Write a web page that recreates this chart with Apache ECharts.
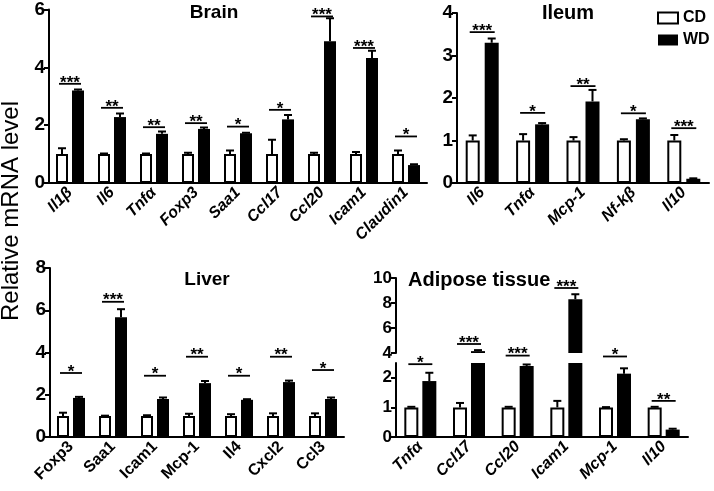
<!DOCTYPE html>
<html>
<head>
<meta charset="utf-8">
<script src="https://cdn.jsdelivr.net/npm/echarts@6/dist/echarts.min.js"></script>
<style>
  html, body { margin: 0; padding: 0; background: #fff; }
  #main { width: 714px; height: 491px; }
</style>
</head>
<body>
<div id="main"></div>
<script>
// brain
const brainCats = ['Il1β', 'Il6', 'Tnfα', 'Foxp3', 'Saa1', 'Ccl17', 'Ccl20', 'Icam1', 'Claudin1'];
const brainCD = [1, 1, 1, 1, 1, 1, 1, 1, 1];
const brainCDErr = [0.2, 0.02, 0.02, 0.05, 0.12, 0.5, 0.05, 0.07, 0.12];
const brainWD = [3.2, 2.28, 1.7, 1.87, 1.72, 2.2, 4.9, 4.32, 0.62];
const brainWDErr = [0.03, 0.12, 0.08, 0.05, 0.02, 0.15, 0.8, 0.25, 0.03];
const brainSig = ['***', '**', '**', '**', '*', '*', '***', '***', '*'];
const brainSigLevel = [3.43, 2.6, 1.93, 2.07, 1.95, 2.53, 5.76, 4.67, 1.61];

// ileum
const ileumCats = ['Il6', 'Tnfα', 'Mcp-1', 'Nf-kβ', 'Il10'];
const ileumCD = [1, 1, 1, 1, 1];
const ileumCDErr = [0.12, 0.15, 0.08, 0.03, 0.13];
const ileumWD = [3.3, 1.38, 1.92, 1.5, 0.1];
const ileumWDErr = [0.1, 0.03, 0.27, 0.02, 0.01];
const ileumSig = ['***', '*', '**', '*', '***'];
const ileumSigLevel = [3.55, 1.65, 2.28, 1.64, 1.29];

// liver
const liverCats = ['Foxp3', 'Saa1', 'Icam1', 'Mcp-1', 'Il4', 'Cxcl2', 'Ccl3'];
const liverCD = [1, 1, 1, 1, 1, 1, 1];
const liverCDErr = [0.15, 0.01, 0.03, 0.1, 0.08, 0.12, 0.12];
const liverWD = [1.85, 5.67, 1.8, 2.55, 1.76, 2.6, 1.8];
const liverWDErr = [0.05, 0.38, 0.07, 0.1, 0.03, 0.07, 0.07];
const liverSig = ['*', '***', '*', '**', '*', '**', '*'];
const liverSigLevel = [3.03, 6.4, 2.9, 3.8, 2.9, 3.8, 3.17];

// adipose tissue (broken axis: levels above 4 belong to the upper part)
const adipCats = ['Tnfα', 'Ccl17', 'Ccl20', 'Icam1', 'Mcp-1', 'Il10'];
const adipCD = [1, 1, 1, 1, 1, 1];
const adipCDErr = [0.02, 0.15, 0.02, 0.22, 0.01, 0.02];
const adipWD = [1.89, 4.15, 2.4, 8.3, 2.14, 0.25];
const adipWDErr = [0.28, 0.08, 0.05, 0.4, 0.18, 0.03];
const adipSig = ['*', '***', '***', '***', '*', '**'];
const adipSigLevel = [2.46, 4.72, 2.75, 9.2, 2.72, 1.22];

const FONT = '"Liberation Sans", Arial, sans-serif';
const myChart = echarts.init(document.getElementById('main'));

const grids = [], xAxes = [], yAxes = [], series = [];

function errorItem(half) {
  return function (params, api) {
    const i = api.value(0);
    const children = [];
    [[api.value(1), api.value(2), -half], [api.value(3), api.value(4), half]].forEach(function (b) {
      const p0 = api.coord([i, b[0]]);
      const p1 = api.coord([i, b[0] + b[1]]);
      const x = p0[0] + b[2];
      children.push({ type: 'line', shape: { x1: x, y1: p0[1], x2: x, y2: p1[1] }, style: { stroke: '#000', lineWidth: 2 } });
      children.push({ type: 'line', shape: { x1: x - 4, y1: p1[1], x2: x + 4, y2: p1[1] }, style: { stroke: '#000', lineWidth: 2 } });
    });
    return { type: 'group', children: children };
  };
}

function sigItem(half, lo, hi) {
  return function (params, api) {
    const i = api.value(0);
    const lvl = api.value(1);
    if (lvl < lo || lvl >= hi) return null;
    const p = api.coord([i, lvl]);
    const x1 = p[0] - half - 3, x2 = p[0] + half + 3;
    return {
      type: 'group',
      children: [
        { type: 'line', shape: { x1: x1, y1: p[1], x2: x2, y2: p[1] }, style: { stroke: '#000', lineWidth: 1.8 } },
        { type: 'text', x: (x1 + x2) / 2, y: p[1] - 1,
          style: { text: api.value(2), textAlign: 'center', textVerticalAlign: 'middle', font: 'bold 17px ' + FONT, fill: '#000' } }
      ]
    };
  };
}

function addPanel(p) {
  const gi = grids.length;
  grids.push({ left: p.box[0], top: p.box[1], width: p.box[2], height: p.box[3] });
  xAxes.push({
    type: 'category', gridIndex: gi, data: p.cats, show: p.showX !== false,
    axisLine: { lineStyle: { color: '#000', width: 2 } },
    axisTick: { alignWithLabel: true, length: 5, lineStyle: { color: '#000', width: 2 } },
    axisLabel: { rotate: 45, interval: 0, margin: 7, color: '#000', fontWeight: 'bold',
      fontStyle: p.italic ? 'italic' : 'normal', fontSize: 16, fontFamily: FONT }
  });
  yAxes.push({
    type: 'value', gridIndex: gi, min: p.min, max: p.max, interval: p.interval,
    axisLine: { show: true, lineStyle: { color: '#000', width: 2 } },
    axisTick: { show: true, length: 5, lineStyle: { color: '#000', width: 2 } },
    axisLabel: { color: '#000', fontWeight: 'bold', fontSize: p.labelSize || 19, fontFamily: FONT, margin: 4,
      showMaxLabel: p.showMaxLabel !== false },
    splitLine: { show: false }
  });
  const half = (p.barWidth + p.gap) / 2;
  const barGap = (p.gap / p.barWidth * 100) + '%';
  series.push({
    name: 'CD', type: 'bar', xAxisIndex: gi, yAxisIndex: gi, data: p.cd, barWidth: p.barWidth, barGap: barGap,
    itemStyle: { color: '#fff', borderColor: '#000', borderWidth: 2 }, clip: true
  });
  series.push({
    name: 'WD', type: 'bar', xAxisIndex: gi, yAxisIndex: gi, data: p.wd, barWidth: p.barWidth, barGap: barGap,
    itemStyle: { color: '#000' }, clip: true
  });
  series.push({
    type: 'custom', xAxisIndex: gi, yAxisIndex: gi, clip: true, silent: true,
    data: p.cats.map(function (c, i) { return [i, p.cd[i], p.cdErr[i], p.wd[i], p.wdErr[i]]; }),
    renderItem: errorItem(half)
  });
  series.push({
    type: 'custom', xAxisIndex: gi, yAxisIndex: gi, clip: false, silent: true, z: 5,
    data: p.cats.map(function (c, i) { return [i, p.sigLevel[i], p.sig[i]]; }),
    renderItem: sigItem(half, p.sigRange[0], p.sigRange[1])
  });
}

addPanel({ box: [49, 8, 378, 175], cats: brainCats, cd: brainCD, cdErr: brainCDErr, wd: brainWD, wdErr: brainWDErr,
  sig: brainSig, sigLevel: brainSigLevel, sigRange: [0, 100], min: 0, max: 6, interval: 2,
  barWidth: 12, gap: 4, italic: true });
addPanel({ box: [457, 13, 252, 170], cats: ileumCats, cd: ileumCD, cdErr: ileumCDErr, wd: ileumWD, wdErr: ileumWDErr,
  sig: ileumSig, sigLevel: ileumSigLevel, sigRange: [0, 100], min: 0, max: 4, interval: 1,
  barWidth: 14, gap: 5, italic: true });
addPanel({ box: [50, 268, 294, 169], cats: liverCats, cd: liverCD, cdErr: liverCDErr, wd: liverWD, wdErr: liverWDErr,
  sig: liverSig, sigLevel: liverSigLevel, sigRange: [0, 100], min: 0, max: 8, interval: 2,
  barWidth: 12, gap: 4, italic: false });
addPanel({ box: [396, 363, 292, 74], cats: adipCats, cd: adipCD, cdErr: adipCDErr, wd: adipWD, wdErr: adipWDErr,
  sig: adipSig, sigLevel: adipSigLevel, sigRange: [0, 4], min: 0, max: 2.5, interval: 1,
  barWidth: 14, gap: 4, italic: true, labelSize: 17, showMaxLabel: false });
addPanel({ box: [396, 278, 292, 75], cats: adipCats, cd: adipCD, cdErr: adipCDErr, wd: adipWD, wdErr: adipWDErr,
  sig: adipSig, sigLevel: adipSigLevel, sigRange: [4, 100], min: 4, max: 10, interval: 2,
  barWidth: 14, gap: 4, italic: true, labelSize: 17, showX: false });

const option = {
  animation: false,
  backgroundColor: '#fff',
  legend: {
    data: ['CD', 'WD'], orient: 'vertical', left: 652, top: 5, itemWidth: 20, itemHeight: 11, itemGap: 6,
    icon: 'rect', textStyle: { color: '#000', fontWeight: 'bold', fontSize: 16, fontFamily: FONT }
  },
  grid: grids,
  xAxis: xAxes,
  yAxis: yAxes,
  series: series,
  graphic: [
    { type: 'text', x: 214, y: 13, style: { text: 'Brain', font: 'bold 19px ' + FONT, fill: '#000', textAlign: 'center', textVerticalAlign: 'middle' } },
    { type: 'text', x: 568, y: 13, style: { text: 'Ileum', font: 'bold 20px ' + FONT, fill: '#000', textAlign: 'center', textVerticalAlign: 'middle' } },
    { type: 'text', x: 207, y: 280, style: { text: 'Liver', font: 'bold 19px ' + FONT, fill: '#000', textAlign: 'center', textVerticalAlign: 'middle' } },
    { type: 'text', x: 408, y: 280, style: { text: 'Adipose tissue', font: 'bold 20px ' + FONT, fill: '#000', textAlign: 'left', textVerticalAlign: 'middle' } },
    { type: 'text', x: 11, y: 211, rotation: Math.PI / 2,
      style: { text: 'Relative mRNA level', font: '24px ' + FONT, fill: '#000', textAlign: 'center', textVerticalAlign: 'middle' } }
  ]
};

myChart.setOption(option);
window.addEventListener('resize', function () {
  myChart.resize();
});
</script>
</body>
</html>
